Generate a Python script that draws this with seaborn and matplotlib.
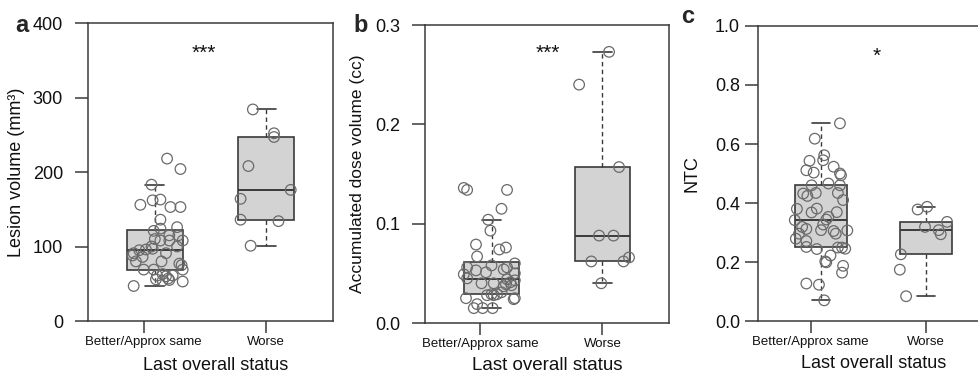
import numpy as np
import pandas as pd
import seaborn as sns
import matplotlib
matplotlib.use('Agg')
import matplotlib.pyplot as plt
from matplotlib.ticker import FormatStrFormatter

sns.set_style('ticks')
plt.rcParams['font.family'] = ['Liberation Sans', 'DejaVu Sans']

groups = ['Better/Approx same', 'Worse']

# panel a: lesion volume (mm3)
lesion_better = [218, 204, 183, 156, 163, 162, 153, 153, 136, 121, 126, 124, 115, 115, 108,
                 108, 108, 110, 100, 97, 96, 95, 91, 88, 86, 91, 100, 80, 80, 69, 69, 69,
                 75, 77, 61, 63, 57, 61, 56, 54, 55, 53, 47, 60]
lesion_better_jit = [0.11, 0.23, -0.03, -0.13, 0.05, -0.02, 0.14, 0.23, 0.05, -0.01, 0.20, 0.05,
                     0.13, 0.21, 0.25, 0.05, 0.13, 0.0, -0.03, -0.02, -0.08, -0.14, -0.19, -0.20,
                     -0.11, 0.10, 0.20, -0.17, 0.06, -0.10, -0.01, 0.25, 0.24, 0.22, 0.02, 0.07,
                     0.12, 0.16, 0.01, 0.07, 0.13, 0.25, -0.19, 0.10]
lesion_worse = [284, 252, 247, 208, 176, 164, 136, 134, 101]
lesion_worse_jit = [-0.12, 0.07, 0.07, -0.16, 0.22, -0.23, -0.23, 0.11, -0.14]

# panel b: accumulated dose volume (cc)
dose_better = [0.136, 0.134, 0.134, 0.115, 0.104, 0.093, 0.079, 0.074, 0.076, 0.067, 0.060,
               0.058, 0.056, 0.053, 0.051, 0.054, 0.056, 0.049, 0.045, 0.044, 0.050, 0.040,
               0.040, 0.037, 0.039, 0.041, 0.043, 0.029, 0.031, 0.028, 0.029, 0.028, 0.025,
               0.019, 0.024, 0.025, 0.015, 0.015, 0.015, 0.038]
dose_better_jit = [-0.25, -0.22, 0.14, 0.09, -0.03, -0.01, -0.14, 0.07, 0.13, -0.13, 0.21, 0.0,
                   -0.22, -0.14, -0.05, 0.11, 0.14, -0.25, -0.22, 0.14, 0.21, -0.09, 0.02, 0.11,
                   0.13, 0.17, 0.21, 0.0, 0.09, -0.04, 0.05, 0.02, -0.23, -0.13, 0.20, 0.21,
                   -0.16, -0.08, 0.01, 0.18]
dose_worse = [0.273, 0.240, 0.157, 0.088, 0.088, 0.062, 0.062, 0.066, 0.040]
dose_worse_jit = [0.06, -0.21, 0.15, -0.03, 0.10, -0.10, 0.19, 0.24, -0.01]

# panel c: NTC
ntc_better = [0.670, 0.618, 0.562, 0.545, 0.543, 0.523, 0.511, 0.503, 0.500, 0.494, 0.466,
              0.460, 0.460, 0.432, 0.434, 0.434, 0.424, 0.410, 0.380, 0.381, 0.368, 0.369,
              0.353, 0.344, 0.342, 0.319, 0.327, 0.312, 0.308, 0.305, 0.296, 0.307, 0.296,
              0.279, 0.271, 0.251, 0.244, 0.249, 0.249, 0.245, 0.222, 0.202, 0.199, 0.187,
              0.164, 0.127, 0.123, 0.070]
ntc_better_jit = [0.18, -0.06, 0.03, 0.02, -0.11, 0.12, -0.14, -0.07, 0.18, 0.19, 0.07, -0.09,
                  0.18, -0.17, -0.05, 0.16, -0.13, 0.21, -0.23, -0.04, -0.09, 0.15, 0.07, 0.05,
                  -0.25, -0.18, 0.02, -0.14, 0.0, 0.12, 0.14, 0.25, -0.21, -0.24, -0.14, -0.14,
                  -0.04, 0.16, 0.20, 0.23, 0.09, 0.04, 0.05, 0.21, 0.20, -0.14, -0.02, 0.03]
ntc_worse = [0.378, 0.387, 0.336, 0.319, 0.308, 0.294, 0.226, 0.174, 0.084]
ntc_worse_jit = [-0.08, 0.01, 0.20, -0.01, 0.12, 0.14, -0.24, -0.25, -0.19]

DARK = '#3a3a3a'


def make_df(better, better_jit, worse, worse_jit):
	rows = []
	for v, j in zip(better, better_jit):
		rows.append([groups[0], v, 0 + j])
	for v, j in zip(worse, worse_jit):
		rows.append([groups[1], v, 1 + j])
	return pd.DataFrame(rows, columns=['status', 'value', 'xpos'])


def draw_panel(ax, df, ylabel, yticks, ylim, fmt, ylab_x, xlab_y, xlab_x, star, star_xy, ypad, ylab_size=13, xlab_size=13):
	sns.boxplot(data=df, x='status', y='value', order=groups, ax=ax, width=0.5,
				color='#d3d3d3', linecolor=DARK, linewidth=1.2, showfliers=False,
				whiskerprops={'linestyle': (0, (3.2, 2.4)), 'linewidth': 1.0},
				capprops={'linewidth': 1.2}, medianprops={'linewidth': 1.4},
				capwidths=0.17, saturation=1)
	sns.scatterplot(x=df['xpos'], y=df['value'], ax=ax, s=58, facecolor='none',
					edgecolor='#6a6a6a', linewidth=0.9, zorder=4, legend=False)
	ax.set_xlim(-0.6, 1.6)
	ax.set_ylim(*ylim)
	ax.set_yticks(yticks)
	if fmt:
		ax.yaxis.set_major_formatter(FormatStrFormatter(fmt))
	ax.set_xticks([-0.1, 1])
	ax.set_xticklabels(groups, fontsize=9.5)
	for sp in ax.spines.values():
		sp.set_visible(True)
		sp.set_linewidth(1.1)
		sp.set_color(DARK)
	ax.tick_params(axis='y', length=9.4, width=1.1, color=DARK, pad=ypad, labelsize=13, labelcolor='#111111')
	ax.tick_params(axis='x', length=8.6, width=1.1, color=DARK, pad=2, labelcolor='#111111')
	ax.set_ylabel(ylabel, fontsize=ylab_size, color='#111111')
	ax.yaxis.set_label_coords(ylab_x, 0.5)
	ax.set_xlabel('Last overall status', fontsize=xlab_size, color='#111111')
	ax.xaxis.set_label_coords(xlab_x, xlab_y)
	ax.text(star_xy[0], star_xy[1], star, ha='center', va='baseline', fontsize=15, color='#111111')


fig = plt.figure(figsize=(9.79, 3.73), dpi=100)
ax_a = fig.add_axes([0.0899, 0.1394, 0.2503, 0.7989])
ax_b = fig.add_axes([0.4341, 0.1340, 0.2492, 0.7989])
ax_c = fig.add_axes([0.7743, 0.1394, 0.2360, 0.7909])

draw_panel(ax_a, make_df(lesion_better, lesion_better_jit, lesion_worse, lesion_worse_jit),
		   'Lesion volume (mm³)', [0, 100, 200, 300, 400], (0, 400), None,
		   -0.257, -0.12, 0.52, '***', (0.44, 352), 8.6)
draw_panel(ax_b, make_df(dose_better, dose_better_jit, dose_worse, dose_worse_jit),
		   'Accumulated dose volume (cc)', [0.0, 0.1, 0.2, 0.3], (0, 0.3), '%.1f',
		   -0.246, -0.115, 0.50, '***', (0.51, 0.266), 8.6, ylab_size=12.5, xlab_size=13.5)
draw_panel(ax_c, make_df(ntc_better, ntc_better_jit, ntc_worse, ntc_worse_jit),
		   'NTC', [0.0, 0.2, 0.4, 0.6, 0.8, 1.0], (0, 1.0), '%.1f',
		   -0.251, -0.114, 0.50, '*', (0.53, 0.878), 3.6)

fig.text(15 / 979, 1 - 32 / 373, 'a', fontsize=17, fontweight='bold', ha='left', va='baseline')
fig.text(353 / 979, 1 - 32 / 373, 'b', fontsize=17, fontweight='bold', ha='left', va='baseline')
fig.text(681 / 979, 1 - 23 / 373, 'c', fontsize=17, fontweight='bold', ha='left', va='baseline')

fig.savefig('out.png', dpi=100)
